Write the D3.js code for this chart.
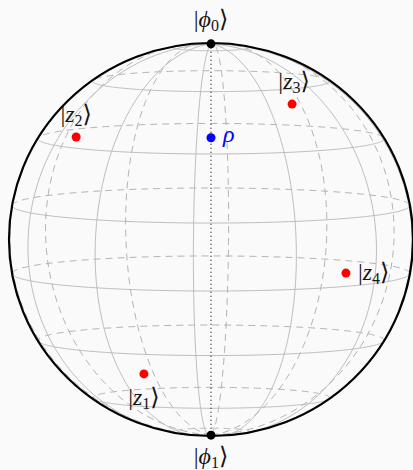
<!DOCTYPE html>
<html>
<head>
<meta charset="utf-8">
<script src="https://cdn.jsdelivr.net/npm/d3@7"></script>
<style>
  html, body { margin: 0; padding: 0; background: #fafafa; }
  svg { display: block; }
  .lbl { font-family: "Liberation Serif", "DejaVu Serif", serif; fill: #151515; }
</style>
</head>
<body>
<svg id="chart" width="413" height="470"></svg>
<script>
// Grid circles of the sphere (degrees)
const gridLatitudes = [79, 54, 31, 10, -10, -31, -54, -79];
const gridLongitudes = [-5, 25, 55, 85, 115, 145, 175, 205, 235, 265, 295, 325];

// Pure states on the sphere: polar angle theta and azimuth lambda (degrees)
const stateNames = ["z1", "z2", "z3", "z4"];
const stateTheta = [128.5, 55.4, 42.2, 96.0];
const stateLambda = [-25.1, -54.2, 36.7, 42.2];

// Mixed state: Bloch vector length along the polar axis
const rhoLength = 0.52;

// Basis states at the poles
const poleNames = ["\u03D5", "\u03D5"];
const poleIndex = ["0", "1"];
const poleZ = [1, -1];

// View: elevation of the observer above the equator (degrees)
const elevation = 5.2;

const svg = d3.select("#chart");
const cx = 211, cy = 239.5, rx = 202, ry = 196.5;
const sx = d3.scaleLinear().domain([-1, 1]).range([cx - rx, cx + rx]);
const sy = d3.scaleLinear().domain([-1, 1]).range([cy + ry, cy - ry]);

const rad = Math.PI / 180;
const ce = Math.cos(elevation * rad), se = Math.sin(elevation * rad);

// x to the right, y up (polar axis), z toward the viewer
function project(p) {
  const [x, y, z] = p;
  const yv = y * ce - z * se;
  const depth = z * ce + y * se;
  return { X: sx(x), Y: sy(yv), depth };
}
function spherePoint(latDeg, lonDeg) {
  const f = latDeg * rad, l = lonDeg * rad;
  return [Math.cos(f) * Math.sin(l), Math.sin(f), Math.cos(f) * Math.cos(l)];
}

const line = d3.line().x(d => d.X).y(d => d.Y);

// split a sampled curve into front (solid) and back (dashed) runs
function drawCurve(pts, g) {
  let run = [pts[0]], front = pts[0].depth >= 0;
  const flush = () => {
    if (run.length > 1) {
      g.append("path").attr("d", line(run))
        .attr("fill", "none")
        .attr("stroke", front ? "#bdbdbd" : "#b2b2b2")
        .attr("stroke-width", 1)
        .attr("stroke-dasharray", front ? null : "7,5");
    }
  };
  for (let i = 1; i < pts.length; i++) {
    const f = pts[i].depth >= 0;
    if (f !== front) {
      run.push(pts[i]);
      flush();
      run = [pts[i]];
      front = f;
    } else run.push(pts[i]);
  }
  flush();
}

const grid = svg.append("g");
gridLatitudes.forEach(lat => {
  const pts = d3.range(0, 361, 1).map(l => project(spherePoint(lat, l)));
  drawCurve(pts, grid);
});
gridLongitudes.forEach(lon => {
  const pts = d3.range(-90, 90.5, 1).map(f => project(spherePoint(f, lon)));
  drawCurve(pts, grid);
});

// outline
svg.append("ellipse").attr("cx", cx).attr("cy", cy).attr("rx", rx).attr("ry", ry)
  .attr("fill", "none").attr("stroke", "#000").attr("stroke-width", 2.2);

// polar axis (dotted)
const northP = project([0, 1, 0]), southP = project([0, -1, 0]);
svg.append("line").attr("x1", northP.X).attr("y1", northP.Y).attr("x2", southP.X).attr("y2", southP.Y)
  .attr("stroke", "#000").attr("stroke-width", 1.1).attr("stroke-dasharray", "1,3");

// ket label helper: |name_sub⟩
function ket(x, y, anchor, name, sub) {
  const t = svg.append("text").attr("class", "lbl").attr("x", x).attr("y", y)
    .attr("text-anchor", anchor).attr("font-size", 24);
  t.append("tspan").text("|");
  t.append("tspan").attr("font-style", "italic").text(name);
  t.append("tspan").attr("font-size", 16).attr("dy", 4).text(sub);
  t.append("tspan").attr("dy", -4).text("\u27E9");
  return t;
}

// pure states
const labelOffsets = [[0, 31, "middle"], [0, -15, "middle"], [2, -15, "middle"], [12, 7, "start"]];
stateNames.forEach((n, i) => {
  const p = project(spherePoint(90 - stateTheta[i], stateLambda[i]));
  svg.append("circle").attr("cx", p.X).attr("cy", p.Y).attr("r", 4.5).attr("fill", "#ff0000");
  const o = labelOffsets[i];
  ket(p.X + o[0], p.Y + o[1], o[2], "z", n.slice(1));
});

// mixed state
const rp = project([0, rhoLength, 0]);
svg.append("circle").attr("cx", rp.X).attr("cy", rp.Y).attr("r", 4.5).attr("fill", "#0000ff");
svg.append("text").attr("class", "lbl").attr("x", rp.X + 12).attr("y", rp.Y + 4)
  .attr("font-size", 24).style("fill", "#0000ff").attr("font-style", "italic").text("\u03C1");

// basis states
poleZ.forEach((z, i) => {
  const p = project([0, z, 0]);
  svg.append("circle").attr("cx", p.X).attr("cy", p.Y).attr("r", 4.5).attr("fill", "#000");
  ket(p.X, z > 0 ? p.Y - 17 : p.Y + 29, "middle", poleNames[i], poleIndex[i]);
});
</script>
</body>
</html>
